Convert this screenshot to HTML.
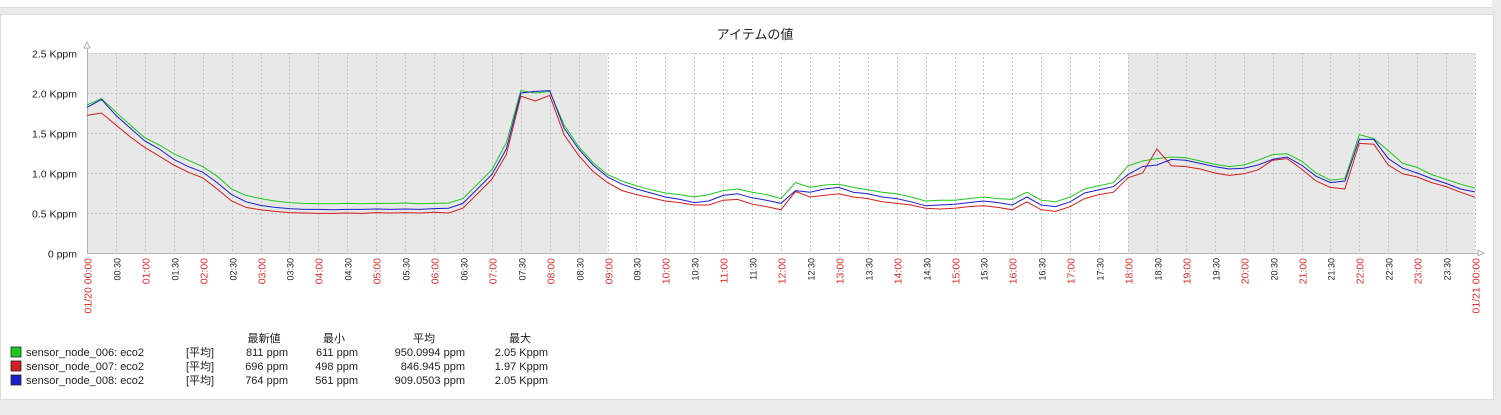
<!DOCTYPE html>
<html><head><meta charset="utf-8">
<style>
html,body{margin:0;padding:0;background:#ebebeb;}
body{width:1501px;height:415px;overflow:hidden;position:relative;font-family:"Liberation Sans","Noto Sans CJK JP",sans-serif;}
#panel{position:absolute;left:0;top:14px;width:1492px;height:384px;background:#fff;border:1px solid #dcdcdc;}
#topstrip{position:absolute;left:0;top:0;width:1492px;height:7px;background:#fff;border-bottom:1px solid #dcdcdc;}
svg{position:absolute;left:0;top:0;}
</style></head>
<body>
<div id="topstrip"></div>
<div id="panel"></div>
<svg id="chart" width="1501" height="415"></svg>
<script>
const seriesNames = ["sensor_node_006: eco2","sensor_node_007: eco2","sensor_node_008: eco2"];
const seriesColors = ["#1ec81e","#d21e1e","#1e1ecc"];
const yTicks = [0,500,1000,1500,2000,2500];
const yTickLabels = ["0 ppm","0.5 Kppm","1.0 Kppm","1.5 Kppm","2.0 Kppm","2.5 Kppm"];
const greenValues = [1850,1930,1760,1600,1440,1350,1240,1160,1080,960,800,720,680,650,630,620,615,615,620,615,620,620,625,615,620,625,680,860,1040,1380,2030,2000,2020,1600,1330,1130,980,900,840,790,750,730,700,730,780,800,760,730,680,880,820,850,860,820,790,760,740,700,650,660,660,680,700,680,670,760,660,640,700,800,840,880,1090,1150,1180,1200,1190,1150,1110,1080,1100,1160,1230,1240,1150,1000,910,930,1480,1430,1280,1120,1070,980,920,860,811];
const redValues = [1720,1750,1600,1450,1320,1210,1100,1010,940,800,650,570,540,520,505,500,495,495,500,495,505,500,505,500,510,500,560,740,920,1230,1960,1900,1970,1480,1220,1020,880,780,730,690,650,630,600,600,660,670,610,580,540,770,700,720,740,700,680,640,620,600,560,550,560,580,590,570,540,640,540,520,580,680,730,760,940,1000,1300,1090,1080,1050,1000,970,990,1040,1160,1180,1050,900,820,800,1370,1360,1100,990,950,880,830,760,696];
const blueValues = [1820,1920,1720,1560,1400,1300,1170,1080,1010,880,730,640,595,570,555,545,545,540,545,545,550,545,550,545,555,560,620,800,980,1300,2000,2020,2030,1560,1300,1100,950,860,800,750,700,670,630,650,720,740,690,660,620,780,760,800,820,760,740,700,680,640,590,600,610,630,650,630,600,700,600,580,640,750,790,830,980,1080,1100,1170,1160,1120,1080,1050,1060,1100,1170,1200,1100,960,880,900,1420,1420,1180,1060,1000,930,870,800,764];
const shadedRanges = [[0,9],[18,24]];
const legendLatest = ["811 ppm","696 ppm","764 ppm"];
const legendMin = ["611 ppm","498 ppm","561 ppm"];
const legendAvg = ["950.0994 ppm","846.945 ppm","909.0503 ppm"];
const legendMax = ["2.05 Kppm","1.97 Kppm","2.05 Kppm"];

const NS="http://www.w3.org/2000/svg";
const svg=document.getElementById('chart');
const X0=87,X1=1475,Y0=253,Y1=53;
const xHour=h=>X0+(X1-X0)*h/24;
const yVal=v=>Y0-(Y0-Y1)*v/2500;
function mk(t,a,p){const e=document.createElementNS(NS,t);for(const k in a)e.setAttribute(k,a[k]);(p||svg).appendChild(e);return e;}

let bg=mk('rect',{x:X0,y:Y1,width:X1-X0,height:Y0-Y1,fill:'#ffffff'});


shadedRanges.forEach(r=>{
  const s=mk('rect',{x:xHour(r[0]),y:Y1,width:xHour(r[1])-xHour(r[0]),height:Y0-Y1,fill:'#e8e8e8'});
  
  
});
for(let i=0;i<=48;i++){
  const x=Math.round(xHour(i/2))+0.5;
  const g=mk('line',{x1:x,y1:Y1,x2:x,y2:Y0,stroke:'#c4c4c4','stroke-dasharray':'2,2','stroke-width':1});
  
  
  const lab=(i===0)?'01/20 00:00':(i===48?'01/21 00:00':(String(Math.floor(i/2)).padStart(2,'0')+':'+(i%2?'30':'00')));
  const t=mk('text',{x:0,y:0,transform:`translate(${x+4},258) rotate(-90)`,'text-anchor':'end','font-size':(i%2?9:10.5),fill:(i%2?'#222':'#e03030')});
  t.textContent=lab;
  
  
}
yTicks.forEach((v,i)=>{
  const y=Math.round(yVal(v))+0.5;
  if(v>0){const g=mk('line',{x1:X0,y1:y,x2:X1,y2:y,stroke:'#c4c4c4','stroke-dasharray':'2,2'});
  
  }
  const t=mk('text',{x:77,y:y+4,'text-anchor':'end','font-size':10.5,fill:'#222'});
  t.textContent=yTickLabels[i];
  
  
});
let ax=mk('path',{d:`M${X0+0.5} 46 L${X0+0.5} ${Y0+0.5} L${X1+3} ${Y0+0.5}`,stroke:'#a9b4c0',fill:'none'});


let ar1=mk('path',{d:`M${X0-3} 48 L${X0} 42 L${X0+3} 48 Z`,stroke:'#a9b4c0',fill:'#fff'});


let ar2=mk('path',{d:`M${X1+3} ${Y0-3} L${X1+9} ${Y0} L${X1+3} ${Y0+3} Z`,stroke:'#a9b4c0',fill:'#fff'});


[greenValues,redValues,blueValues].forEach((arr,si)=>{
  const n=arr.length;
  const pts=arr.map((v,i)=>`${xHour(24*i/(n-1)).toFixed(1)},${yVal(v).toFixed(1)}`).join(' ');
  const p=mk('polyline',{points:pts,fill:'none',stroke:seriesColors[si],'stroke-width':1});
  
  
});
let title=mk('text',{x:755,y:39,'text-anchor':'middle','font-size':13,fill:'#222'});
title.textContent='アイテムの値';


const hdr=[['最新値',264],['最小',334],['平均',424],['最大',520]];
hdr.forEach(h=>{const t=mk('text',{x:h[1],y:342,'text-anchor':'middle','font-size':11,fill:'#222'});t.textContent=h[0];

});
seriesNames.forEach((nm,i)=>{
  const y=356+i*14;
  const sw=mk('rect',{x:11,y:y-9,width:10,height:10,fill:seriesColors[i],stroke:'#222','stroke-width':0.8});
  
  
  const cells=[[nm,26,'start'],['[平均]',186,'start'],[legendLatest[i],288,'end'],[legendMin[i],358,'end'],[legendAvg[i],465,'end'],[legendMax[i],548,'end']];
  cells.forEach(c=>{const t=mk('text',{x:c[1],y:y,'text-anchor':c[2],'font-size':11,fill:'#222'});t.textContent=c[0];
  
  });
});
</script>
</body></html>
